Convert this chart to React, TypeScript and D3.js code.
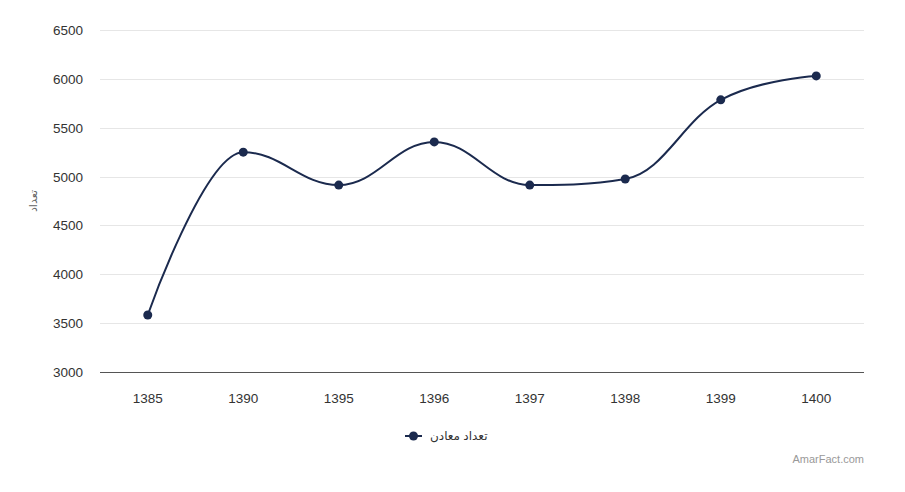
import React, { useEffect } from 'react';
import * as d3 from 'd3';

const years = ['1385', '1390', '1395', '1396', '1397', '1398', '1399', '1400'];
const mines = [3583, 5250, 4913, 5355, 4913, 4975, 5785, 6030];
const yTicks = [3000, 3500, 4000, 4500, 5000, 5500, 6000, 6500];

const seriesName = 'تعداد معادن';
const yTitle = 'تعداد';
const credit = 'AmarFact.com';

const width = 905;
const height = 492;
const margin = { top: 30, right: 41, bottom: 120, left: 100 };
const lineColor = '#1b2a4e';
const font = "'Liberation Sans', Arial, 'DejaVu Sans', sans-serif";

// Highcharts-style spline path built from pixel points
function splinePath(pts: [number, number][]) {
  const smoothing = 1.5;
  const denom = smoothing + 1;
  const ctrl = pts.map((p, i) => {
    if (i === 0 || i === pts.length - 1) return { l: p, r: p };
    const [x, y] = p;
    const [lx, ly] = pts[i - 1];
    const [nx, ny] = pts[i + 1];
    const lcx = (smoothing * x + lx) / denom;
    let lcy = (smoothing * y + ly) / denom;
    const rcx = (smoothing * x + nx) / denom;
    let rcy = (smoothing * y + ny) / denom;
    if (rcx !== lcx) {
      const corr = ((rcy - lcy) * (rcx - x)) / (rcx - lcx) + y - rcy;
      lcy += corr;
      rcy += corr;
    }
    if (lcy > ly && lcy > y) {
      lcy = Math.max(ly, y);
      rcy = 2 * y - lcy;
    } else if (lcy < ly && lcy < y) {
      lcy = Math.min(ly, y);
      rcy = 2 * y - lcy;
    }
    if (rcy > ny && rcy > y) {
      rcy = Math.max(ny, y);
      lcy = 2 * y - rcy;
    } else if (rcy < ny && rcy < y) {
      rcy = Math.min(ny, y);
      lcy = 2 * y - rcy;
    }
    return { l: [lcx, lcy] as [number, number], r: [rcx, rcy] as [number, number] };
  });
  const path = d3.path();
  path.moveTo(pts[0][0], pts[0][1]);
  for (let i = 1; i < pts.length; i++) {
    const c1 = ctrl[i - 1].r;
    const c2 = ctrl[i].l;
    path.bezierCurveTo(c1[0], c1[1], c2[0], c2[1], pts[i][0], pts[i][1]);
  }
  return path.toString();
}

const App: React.FC = () => {
  useEffect(() => {
    document.body.style.margin = '0';
  }, []);

  const x = d3
    .scaleBand()
    .domain(years)
    .range([margin.left, width - margin.right]);

  const y = d3
    .scaleLinear()
    .domain([3000, 6500])
    .range([height - margin.bottom, margin.top]);

  const pts: [number, number][] = years.map((yr, i) => [
    (x(yr) || 0) + x.bandwidth() / 2,
    y(mines[i]),
  ]);

  const plotLeft = margin.left;
  const plotRight = width - margin.right;
  const plotBottom = height - margin.bottom;

  return (
    <svg width={width} height={height} style={{ display: 'block', background: '#fff' }}>
      {/* grid */}
      {yTicks.map((t) => (
        <line
          key={t}
          x1={plotLeft}
          x2={plotRight}
          y1={Math.round(y(t)) + 0.5}
          y2={Math.round(y(t)) + 0.5}
          stroke="#e6e6e6"
          strokeWidth={1}
        />
      ))}
      {/* y labels */}
      {yTicks.map((t) => (
        <text
          key={'l' + t}
          x={83}
          y={y(t) + 5}
          textAnchor="end"
          fontSize={13.5}
          fontFamily={font}
          fill="#333"
        >
          {t}
        </text>
      ))}
      {/* x axis line */}
      <line
        x1={plotLeft}
        x2={plotRight}
        y1={Math.round(plotBottom) + 0.5}
        y2={Math.round(plotBottom) + 0.5}
        stroke="#555"
        strokeWidth={1}
      />
      {/* x labels */}
      {years.map((yr) => (
        <text
          key={yr}
          x={(x(yr) || 0) + x.bandwidth() / 2}
          y={plotBottom + 31}
          textAnchor="middle"
          fontSize={13.5}
          fontFamily={font}
          fill="#333"
        >
          {yr}
        </text>
      ))}
      {/* y title */}
      <text
        transform={`translate(37,${(margin.top + plotBottom) / 2}) rotate(-90)`}
        textAnchor="middle"
        fontSize={11}
        fontFamily={font}
        fill="#666"
      >
        {yTitle}
      </text>
      {/* series */}
      <path d={splinePath(pts)} fill="none" stroke={lineColor} strokeWidth={2} strokeLinejoin="round" />
      {pts.map((p, i) => (
        <circle key={i} cx={p[0]} cy={p[1]} r={4.5} fill={lineColor} />
      ))}
      {/* legend */}
      <g transform="translate(405,436)">
        <line x1={0} x2={17} y1={0} y2={0} stroke={lineColor} strokeWidth={2} />
        <circle cx={8.5} cy={0} r={4.5} fill={lineColor} />
        <text x={25} y={4} fontSize={12} fontFamily={font} fill="#333">
          {seriesName}
        </text>
      </g>
      {/* credit */}
      <text
        x={plotRight}
        y={463}
        textAnchor="end"
        fontSize={11}
        fontFamily={font}
        fill="#999"
      >
        {credit}
      </text>
    </svg>
  );
};

export default App;
